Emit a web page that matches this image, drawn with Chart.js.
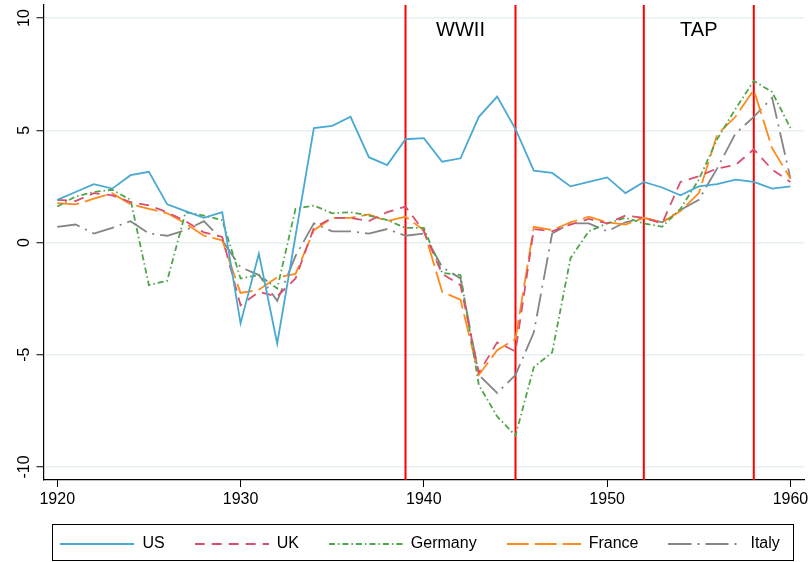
<!DOCTYPE html>
<html lang="en">
<head>
<meta charset="UTF-8" />
<title>Growth 1920-1960</title>
<script src="https://cdn.jsdelivr.net/npm/chart.js@4.4.0/dist/chart.umd.min.js"></script>
<style>
  html, body { margin: 0; padding: 0; background: #fff; }
  #wrap { width: 810px; height: 562px; }
</style>
</head>
<body>
<div id="wrap"><canvas id="chart" width="810" height="562"></canvas></div>
<script>
// years on the x axis
const years = [];
for (let y = 1920; y <= 1960; y++) years.push(y);

// series values, one per year 1920..1960
const us = [1.9, 2.25, 2.6, 2.4, 3.0, 3.15, 1.7, 1.4, 1.1, 1.35,
  -3.6, -0.5, -4.5, 0.3, 5.1, 5.2, 5.6, 3.8, 3.45, 4.6,
  4.65, 3.6, 3.75, 5.6, 6.5, 5.05, 3.2, 3.1, 2.5, 2.7,
  2.9, 2.2, 2.7, 2.45, 2.1, 2.5, 2.6, 2.8, 2.7, 2.4, 2.5];
const uk = [1.9, 1.85, 2.2, 2.1, 1.8, 1.65, 1.35, 0.95, 0.45, 0.25,
  -2.8, -2.2, -2.4, -1.6, 0.65, 1.1, 1.1, 0.95, 1.35, 1.6,
  0.5, -1.4, -1.9, -5.8, -4.45, -4.85, 0.6, 0.5, 0.8, 1.05,
  0.85, 1.2, 1.1, 0.85, 2.7, 2.95, 3.3, 3.45, 4.15, 3.25, 2.7];
const germany = [1.6, 2.05, 2.25, 2.35, 1.9, -1.9, -1.7, 1.35, 1.2, 1.0,
  -1.6, -1.45, -2.05, 1.5, 1.65, 1.3, 1.35, 1.2, 1.0, 0.65,
  0.65, -1.35, -1.45, -6.35, -7.75, -8.6, -5.55, -4.9, -0.7, 0.5,
  0.85, 1.1, 0.85, 0.7, 1.5, 2.8, 4.6, 5.95, 7.2, 6.7, 5.1];
const france = [1.75, 1.7, 1.95, 2.2, 1.7, 1.5, 1.3, 0.85, 0.3, 0.1,
  -2.25, -2.1, -1.55, -1.4, 0.55, 1.1, 1.1, 1.25, 0.95, 1.15,
  0.55, -2.2, -2.55, -5.9, -4.8, -4.3, 0.7, 0.55, 0.9, 1.15,
  0.9, 0.8, 1.1, 0.9, 1.4, 2.2, 4.8, 5.6, 6.8, 4.2, 2.85];
const italy = [0.7, 0.8, 0.4, 0.65, 0.95, 0.4, 0.3, 0.55, 0.95, 0.1,
  -1.1, -1.45, -2.6, -0.6, 0.85, 0.5, 0.5, 0.4, 0.6, 0.3,
  0.4, -1.1, -1.6, -5.9, -6.7, -5.9, -4.0, 0.4, 0.85, 0.85,
  0.5, 0.9, 1.1, 0.9, 1.45, 1.9, 3.3, 4.85, 5.6, 6.45, 2.85];

const seriesNames = ['US', 'UK', 'Germany', 'France', 'Italy'];

// tick labels
const xTicks = [1920, 1930, 1940, 1950, 1960];
const yTicks = [-10, -5, 0, 5, 10];

// vertical markers and the periods they enclose
const markerYears = [1939, 1945, 1952, 1958];
const periodNames = ['WWII', 'TAP'];
const periodSpans = [[1939, 1945], [1952, 1958]];

const FONT = '"Liberation Sans", Arial, sans-serif';
const LEGEND_LINE = 74;

const pts = vals => years.map((y, i) => ({ x: y, y: vals[i] }));

const styles = [
  { color: '#4aa9d3', dash: [] },
  { color: '#d9506f', dash: [10, 7] },
  { color: '#4fa54a', dash: [6, 3, 1.5, 3] },
  { color: '#ff8a1c', dash: [22, 6] },
  { color: '#858585', dash: [23, 6, 2, 6] }
];
const allSeries = [us, uk, germany, france, italy];

// small canvas with the dashed line sample, used as legend symbol
function legendSwatch(st) {
  const c = document.createElement('canvas');
  c.width = LEGEND_LINE;
  c.height = 4;
  const g = c.getContext('2d');
  g.strokeStyle = st.color;
  g.lineWidth = 1.8;
  g.setLineDash(st.dash);
  g.beginPath();
  g.moveTo(0, 2);
  g.lineTo(LEGEND_LINE, 2);
  g.stroke();
  return c;
}

const datasets = allSeries.map((vals, i) => ({
  label: seriesNames[i],
  data: pts(vals),
  borderColor: styles[i].color,
  backgroundColor: styles[i].color,
  borderDash: styles[i].dash,
  borderWidth: 1.8,
  pointRadius: 0,
  pointStyle: legendSwatch(styles[i]),
  tension: 0,
  fill: false
}));

// red vertical lines + period labels
const markers = {
  id: 'markers',
  beforeDatasetsDraw(chart) {
    const { ctx, chartArea: a, scales: { x, y } } = chart;
    ctx.save();
    ctx.strokeStyle = '#ff0000';
    ctx.lineWidth = 2;
    markerYears.forEach(yr => {
      const px = x.getPixelForValue(yr);
      ctx.beginPath();
      ctx.moveTo(px, a.top);
      ctx.lineTo(px, a.bottom);
      ctx.stroke();
    });
    ctx.fillStyle = '#000';
    ctx.font = '20px ' + FONT;
    ctx.textAlign = 'center';
    ctx.textBaseline = 'middle';
    periodNames.forEach((t, i) => {
      const mid = (periodSpans[i][0] + periodSpans[i][1]) / 2;
      ctx.fillText(t, x.getPixelForValue(mid), y.getPixelForValue(9.45));
    });
    ctx.restore();
  },
  afterLayout(chart) {
    // nudge legend so it sits centred in its frame
    chart.legend.left += 18;
    chart.legend.right += 18;
  },
  afterDraw(chart) {
    const { ctx } = chart;
    ctx.save();
    ctx.strokeStyle = '#000';
    ctx.lineWidth = 1;
    ctx.strokeRect(52.5, 524.5, 741, 36);
    ctx.restore();
  }
};

const noPad = s => { s.paddingTop = 0; s.paddingBottom = 0; s.paddingLeft = 0; s.paddingRight = 0; };

new Chart(document.getElementById('chart'), {
  type: 'line',
  data: { datasets },
  plugins: [markers],
  options: {
    responsive: false,
    animation: false,
    layout: { padding: { top: 5, right: 5.8, left: 0, bottom: 0 } },
    plugins: {
      legend: {
        position: 'bottom',
        labels: {
          usePointStyle: true,
          pointStyleWidth: LEGEND_LINE,
          padding: 30,
          color: '#000',
          font: { family: FONT, size: 16 }
        }
      },
      tooltip: { enabled: false }
    },
    scales: {
      x: {
        type: 'linear',
        min: 1919.25,
        max: 1960.75,
        afterBuildTicks: s => { s.ticks = xTicks.map(v => ({ value: v })); },
        afterFit: s => { s.height = 26; noPad(s); },
        ticks: {
          color: '#000',
          padding: 3,
          maxRotation: 0,
          font: { family: FONT, size: 16 },
          callback: v => String(v)
        },
        grid: { drawOnChartArea: false, tickLength: 7, tickColor: '#000', tickWidth: 1 },
        border: { color: '#000', width: 1.2 }
      },
      y: {
        min: -10.58,
        max: 10.58,
        afterBuildTicks: s => { s.ticks = yTicks.map(v => ({ value: v })); },
        afterFit: s => { s.width = 43.5; noPad(s); },
        ticks: {
          color: '#000',
          padding: 0,
          minRotation: 90,
          maxRotation: 90,
          crossAlign: 'center',
          font: { family: FONT, size: 16 },
          callback: v => String(v)
        },
        grid: { color: '#e8f0f1', lineWidth: 1.5, tickLength: 7, tickColor: '#000', tickWidth: 1 },
        border: { color: '#000', width: 1.2 }
      }
    }
  }
});
</script>
</body>
</html>
